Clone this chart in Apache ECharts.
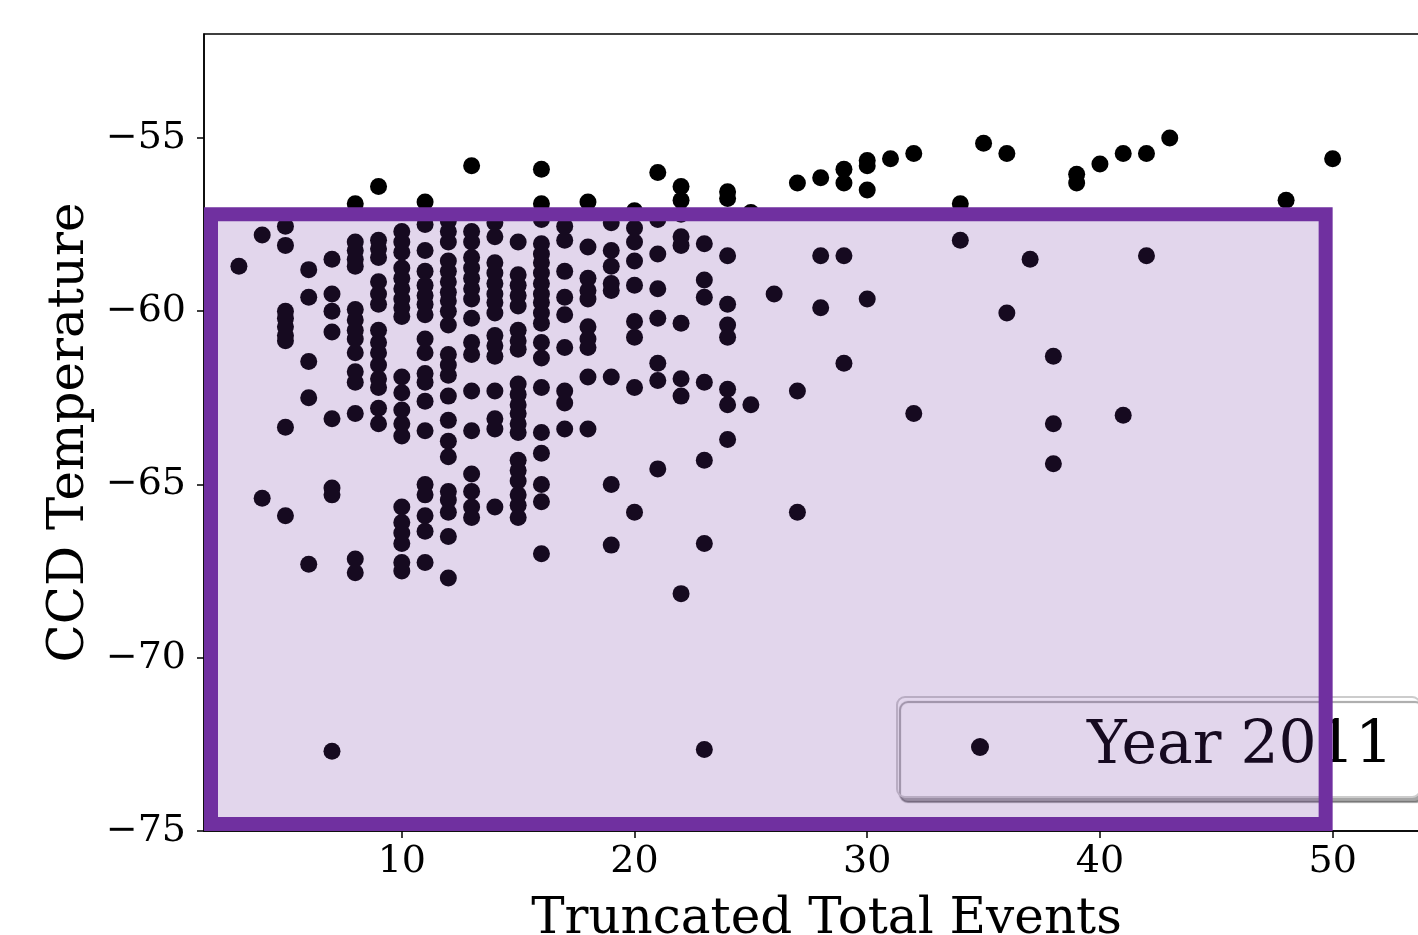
<!DOCTYPE html>
<html>
<head>
<meta charset="utf-8">
<script src="https://cdn.jsdelivr.net/npm/echarts@6/dist/echarts.min.js"></script>
<style>
  html, body { margin: 0; padding: 0; background: #fff; }
  #main { width: 1418px; height: 935px; }
</style>
</head>
<body>
<div id="main"></div>
<script>
// Truncated total events (x) and the CCD temperatures read at each count
var events = [3, 4, 5, 6, 7, 8, 9, 10, 11, 12, 13, 14, 15, 16, 17, 18, 19, 20, 21, 22, 23, 24, 25,
  26, 27, 28, 29, 30, 31, 32, 34, 35, 36, 37, 38, 39, 40, 41, 42, 43, 48, 50]
var temps = [
  [-58.7],
  [-57.8, -65.4],
  [-57.55, -58.1, -60.0, -60.2, -60.45, -60.7, -60.85, -63.35, -65.9],
  [-58.8, -59.6, -61.45, -62.5, -67.3],
  [-58.5, -59.5, -60.0, -60.6, -63.1, -65.1, -65.3, -72.7],
  [-56.9, -58.0, -58.25, -58.5, -58.7, -59.95, -60.25, -60.55, -60.8, -61.2, -61.75, -62.05, -62.95, -67.15, -67.55],
  [-56.4, -57.95, -58.2, -58.45, -59.15, -59.5, -59.8, -60.55, -60.9, -61.2, -61.55, -61.95, -62.2, -62.8, -63.25],
  [-57.7, -58.0, -58.3, -58.75, -59.05, -59.35, -59.65, -59.9, -60.15, -61.9, -62.35, -62.85, -63.25, -63.6, -65.65, -66.1, -66.4, -66.7, -67.25, -67.5],
  [-56.85, -57.5, -58.25, -58.85, -59.25, -59.55, -59.8, -60.1, -60.8, -61.2, -61.8, -62.05, -62.6, -63.45, -65.0, -65.3, -65.9, -66.35, -67.25],
  [-57.4, -57.7, -58.0, -58.55, -58.85, -59.15, -59.45, -59.7, -60.0, -60.4, -61.25, -61.55, -61.85, -62.45, -63.15, -63.75, -64.2, -65.2, -65.45, -65.8, -66.5, -67.7],
  [-55.8, -57.7, -58.0, -58.45, -58.75, -59.05, -59.35, -59.65, -60.2, -60.9, -61.25, -62.3, -63.45, -64.7, -65.2, -65.65, -65.95],
  [-57.45, -57.85, -58.6, -58.9, -59.2, -59.5, -59.75, -60.05, -60.7, -61.0, -61.3, -62.3, -63.1, -63.4, -65.65],
  [-58.0, -58.95, -59.25, -59.55, -59.85, -60.55, -60.85, -61.1, -62.1, -62.4, -62.7, -62.95, -63.25, -63.5, -64.3, -64.6, -64.9, -65.3, -65.6, -65.95],
  [-55.9, -56.9, -57.35, -58.05, -58.35, -58.6, -58.9, -59.2, -59.5, -59.75, -60.05, -60.35, -60.9, -61.35, -62.2, -63.5, -64.1, -65.0, -65.5, -67.0],
  [-57.55, -57.95, -58.85, -59.6, -60.1, -61.05, -62.3, -62.65, -63.4],
  [-56.85, -58.15, -59.05, -59.4, -59.65, -60.45, -60.8, -61.05, -61.9, -63.4],
  [-57.45, -58.25, -58.7, -59.2, -59.4, -61.9, -65.0, -66.75],
  [-57.1, -57.6, -58.0, -58.55, -59.25, -60.3, -60.75, -62.2, -65.8],
  [-56.0, -57.35, -58.35, -59.35, -60.2, -61.5, -62.0, -64.55],
  [-56.4, -56.8, -57.2, -57.85, -58.1, -60.35, -61.95, -62.45, -68.15],
  [-58.05, -59.1, -59.6, -62.05, -64.3, -66.7, -72.65],
  [-56.55, -56.75, -58.4, -59.8, -60.4, -60.75, -62.25, -62.7, -63.7],
  [-57.15, -62.7],
  [-59.5],
  [-56.3, -62.3, -65.8],
  [-56.15, -58.4, -59.9],
  [-55.9, -56.3, -58.4, -61.5],
  [-55.65, -55.8, -56.5, -59.65],
  [-55.6],
  [-55.45, -62.95],
  [-56.9, -57.95],
  [-55.15],
  [-55.45, -60.05],
  [-58.5],
  [-61.3, -63.25, -64.4],
  [-56.05, -56.3],
  [-55.75],
  [-55.45, -63.0],
  [-55.45, -58.4],
  [-55.0],
  [-56.8],
  [-55.6]
]
var xTicks = [10, 20, 30, 40, 50]
var yTicks = [-75, -70, -65, -60, -55]
// highlighted box: [x from, y top, x to, y bottom]
var boxRange = [1.5, -57, 50, -75]

var points = []
for (var i = 0; i < events.length; i++) {
  for (var j = 0; j < temps[i].length; j++) {
    points.push([events[i], temps[i][j]])
  }
}

var FONT = 'DejaVu Serif'
var myChart = echarts.init(document.getElementById('main'))

myChart.setOption({
  animation: false,
  backgroundColor: '#fff',
  grid: {
    left: 204, top: 34, width: 1245, bottom: 104,
    outerBoundsMode: 'none',
    containLabel: false,
    show: true, borderColor: '#000', borderWidth: 1.5
  },
  legend: {
    left: 897, top: 697,
    z: 4,
    data: [{ name: 'Year 2011', icon: 'circle' }],
    itemWidth: 18, itemHeight: 18,
    padding: [18, 27, 18, 74],
    backgroundColor: '#fff',
    borderColor: '#cccccc', borderWidth: 2, borderRadius: 8,
    shadowColor: 'rgba(0,0,0,0.35)', shadowBlur: 1, shadowOffsetX: 3, shadowOffsetY: 5,
    textStyle: { fontFamily: FONT, fontSize: 60, color: '#000', lineHeight: 64, padding: [0, 0, 0, 93] }
  },
  xAxis: {
    type: 'value', min: 1.5, max: 55,
    name: 'Truncated Total Events', nameLocation: 'middle', nameGap: 64,
    nameTextStyle: { fontFamily: FONT, fontSize: 50, color: '#000' },
    axisLine: { lineStyle: { color: '#000', width: 1.5 } },
    axisTick: { show: true, length: 7, lineStyle: { color: '#000', width: 1.5 }, customValues: xTicks },
    axisLabel: { fontFamily: FONT, fontSize: 38, color: '#000', margin: 12, customValues: xTicks },
    splitLine: { show: false }
  },
  yAxis: {
    type: 'value', min: -75, max: -52,
    name: 'CCD Temperature', nameLocation: 'middle', nameGap: 108,
    nameTextStyle: { fontFamily: FONT, fontSize: 50, color: '#000' },
    axisLine: { show: true, lineStyle: { color: '#000', width: 1.5 } },
    axisTick: { show: true, length: 7, lineStyle: { color: '#000', width: 1.5 }, customValues: yTicks },
    axisLabel: {
      fontFamily: FONT, fontSize: 38, color: '#000', margin: 18, customValues: yTicks,
      formatter: function (v) { return v < 0 ? '\u2212' + Math.abs(v) : '' + v }
    },
    splitLine: { show: false }
  },
  series: [
    {
      name: 'Year 2011',
      type: 'scatter',
      symbol: 'circle',
      symbolSize: 17,
      itemStyle: { color: '#000', opacity: 1 },
      data: points,
      z: 2
    },
    {
      type: 'custom',
      z: 10,
      silent: true,
      clip: true,
      data: [boxRange],
      renderItem: function (params, api) {
        var lw = 14
        var p1 = api.coord([api.value(0), api.value(1)])
        var p2 = api.coord([api.value(2), api.value(3)])
        return {
          type: 'rect',
          shape: {
            x: p1[0] + lw / 2,
            y: p1[1] + lw / 2,
            width: p2[0] - p1[0] - lw,
            height: p2[1] - p1[1] - lw
          },
          style: { fill: 'rgba(112,48,160,0.2)', stroke: '#7030a0', lineWidth: lw }
        }
      }
    }
  ]
})
</script>
</body>
</html>
